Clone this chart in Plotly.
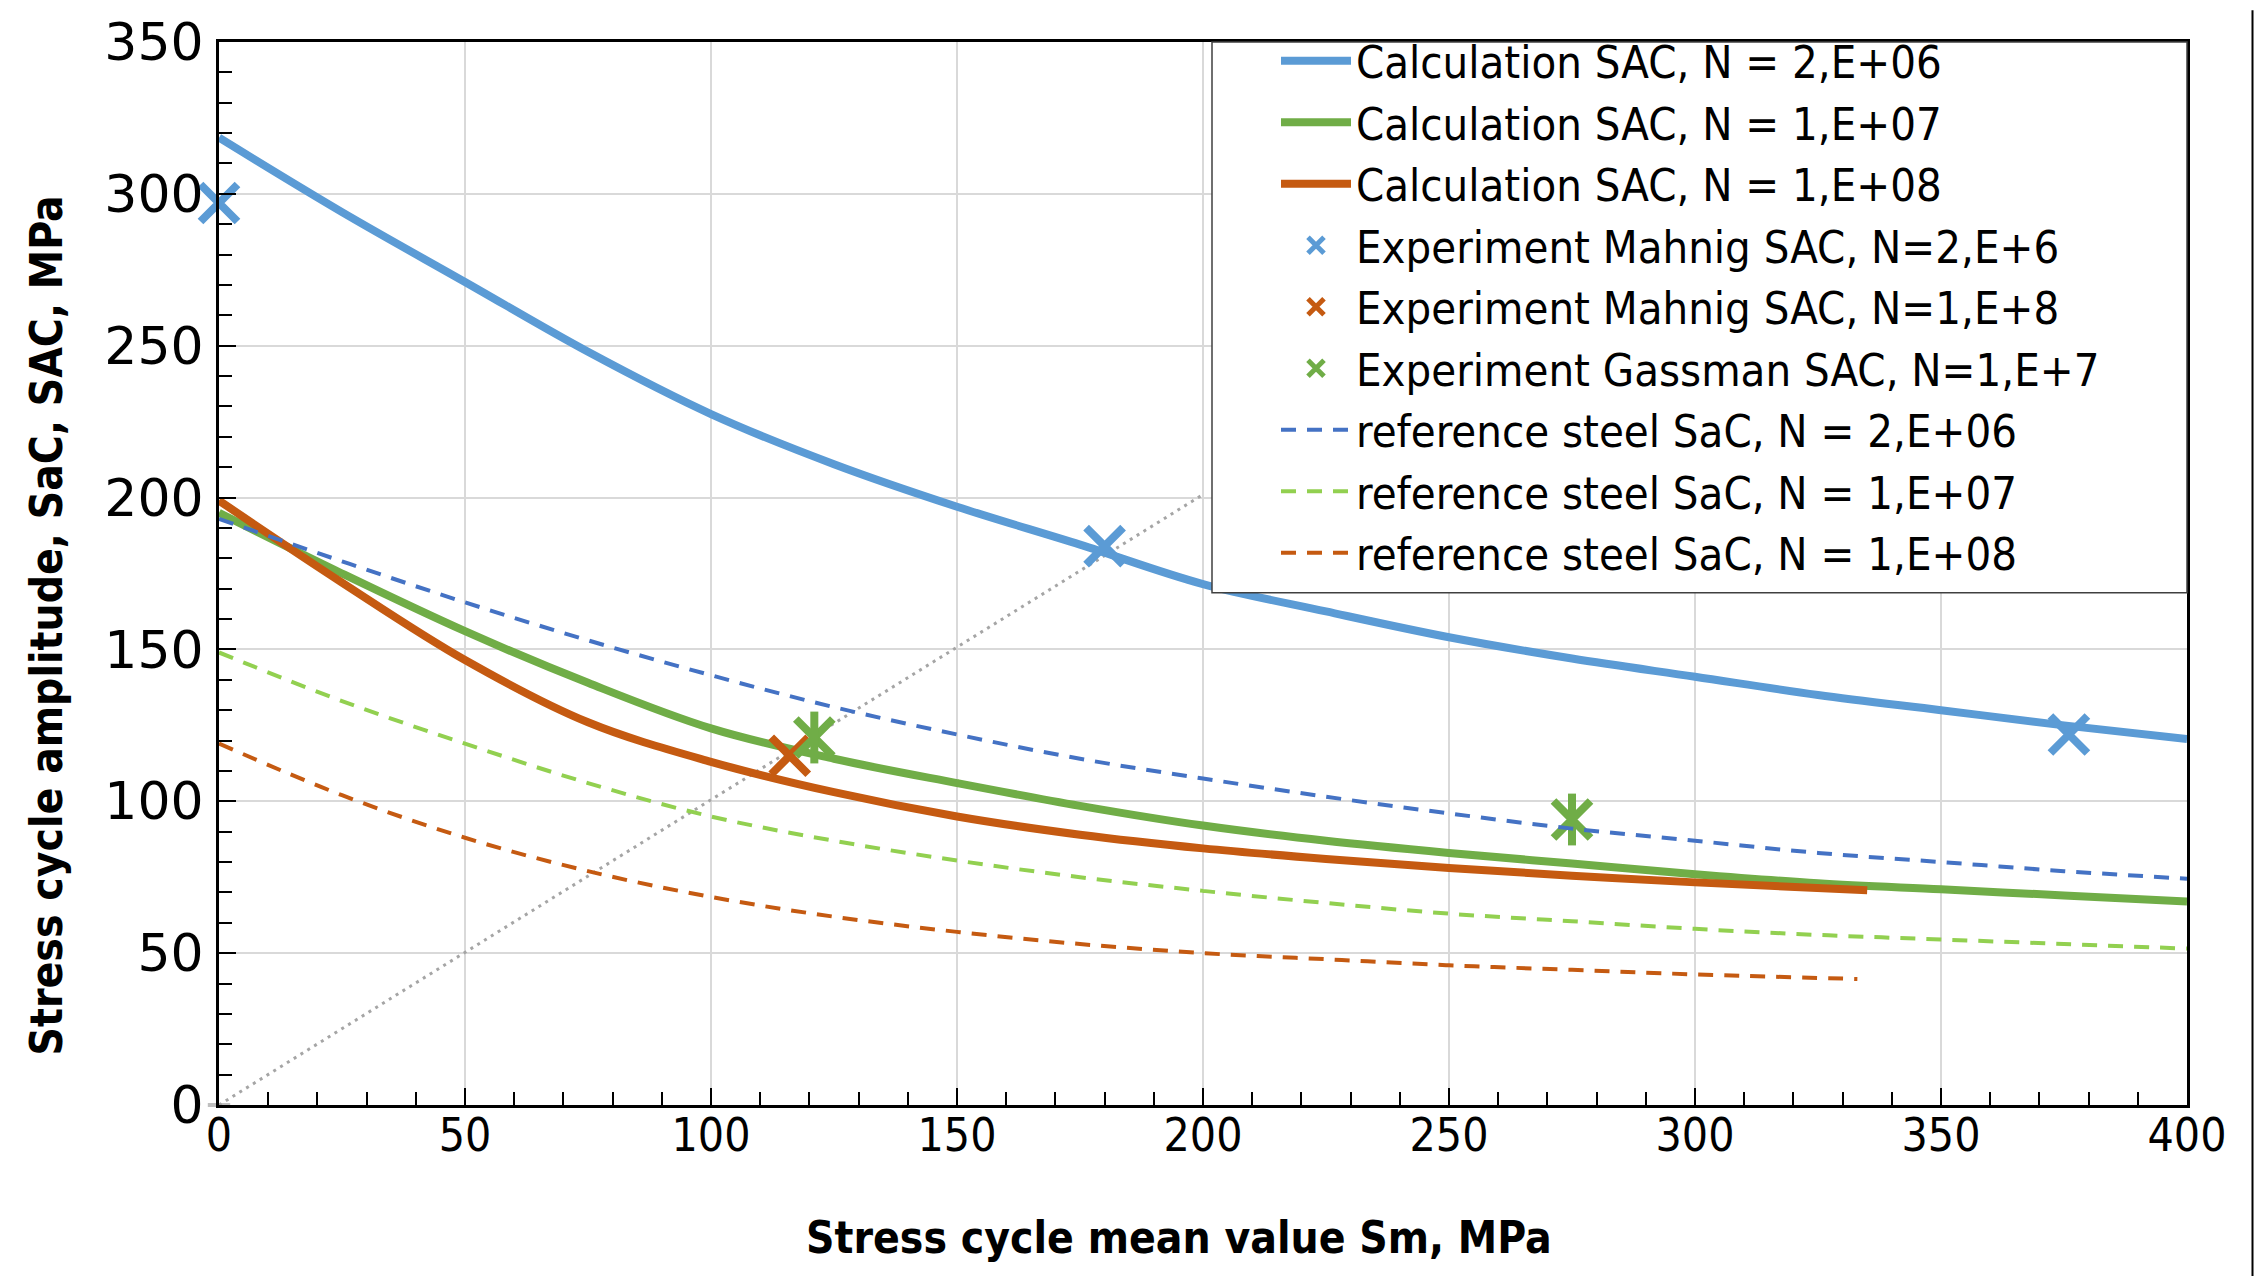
import plotly.graph_objects as go

# ---------------- data ----------------
x_calc = [0, 25, 50, 75, 100, 125, 150, 175, 200, 225, 250, 275, 300, 325, 350, 375, 400]
calc_2e6 = [318.5, 294, 271, 248, 227.5, 211, 197, 184.5, 171.5, 162.5, 154, 147, 141, 135, 130, 125, 120.5]
calc_1e7 = [195, 175, 156, 139, 124, 114, 106, 98.5, 92, 87, 83, 79.5, 76, 73, 71, 69, 67]
x_calc_1e8 = [0, 25, 50, 75, 100, 125, 150, 175, 200, 225, 250, 275, 300, 335]
calc_1e8 = [199, 172, 146.5, 126, 113, 103, 95, 89, 84.5, 81, 78, 75.5, 73.3, 70.7]

x_ref = [0, 25, 50, 75, 100, 125, 150, 175, 200, 225, 250, 275, 300, 325, 350, 375, 400]
ref_2e6 = [193, 179, 165.5, 153, 141.5, 131, 122, 114, 107.5, 101.5, 96, 91, 87, 83, 80, 77, 74.5]
ref_1e7 = [149, 133, 119, 106, 95, 87, 80.5, 75, 70.5, 66.5, 63, 60.5, 58, 56, 54.5, 53, 51.5]
x_ref_1e8 = [0, 25, 50, 75, 100, 125, 150, 175, 200, 225, 250, 275, 300, 333]
ref_1e8 = [119, 102, 88, 77, 68.5, 62, 57, 53, 50, 48, 46, 44.5, 43, 41.5]

exp_mahnig_2e6_x = [0, 180, 376]
exp_mahnig_2e6_y = [297, 184, 122]
exp_mahnig_1e8_x = [116]
exp_mahnig_1e8_y = [115]
exp_gassman_1e7_x = [121, 275]
exp_gassman_1e7_y = [121, 94]

diag_x = [0, 200]
diag_y = [0, 201]

names = [
    "Calculation SAC, N = 2,E+06",
    "Calculation SAC, N = 1,E+07",
    "Calculation SAC, N = 1,E+08",
    "Experiment Mahnig SAC, N=2,E+6",
    "Experiment Mahnig SAC, N=1,E+8",
    "Experiment Gassman SAC, N=1,E+7",
    "reference steel SaC, N = 2,E+06",
    "reference steel SaC, N = 1,E+07",
    "reference steel SaC, N = 1,E+08",
]

x_ticks = [0, 50, 100, 150, 200, 250, 300, 350, 400]
y_ticks = [0, 50, 100, 150, 200, 250, 300, 350]
x_title = "Stress cycle mean value Sm, MPa"
y_title = "Stress cycle amplitude, SaC, SAC, MPa"

# ---------------- styles ----------------
BLUE = "#5B9BD5"
GREEN = "#70AD47"
ORANGE = "#C55A11"
DBLUE = "#4472C4"
LGREEN = "#92D050"
GRAY = "#A5A5A5"
NARROW = "DejaVu Sans Condensed, DejaVu Sans, sans-serif"
DASH = "15px,11px"
MSIZE = 37
MLW = 8

fig = go.Figure()

# diagonal dotted helper line (not in legend)
fig.add_trace(go.Scatter(x=diag_x, y=diag_y, mode="lines+markers", showlegend=False,
                         line=dict(color=GRAY, width=3, dash="3px,5px"),
                         marker=dict(symbol="line-ew-open", size=[16, 0],
                                     line=dict(color=GRAY, width=4)),
                         cliponaxis=False, hoverinfo="skip"))

fig.add_trace(go.Scatter(x=x_calc, y=calc_2e6, name=names[0], mode="lines",
                         line=dict(color=BLUE, width=8, shape="spline")))
fig.add_trace(go.Scatter(x=x_calc, y=calc_1e7, name=names[1], mode="lines",
                         line=dict(color=GREEN, width=8, shape="spline")))
fig.add_trace(go.Scatter(x=x_calc_1e8, y=calc_1e8, name=names[2], mode="lines",
                         line=dict(color=ORANGE, width=8, shape="spline")))

fig.add_trace(go.Scatter(x=exp_mahnig_2e6_x, y=exp_mahnig_2e6_y, name=names[3], mode="markers",
                         marker=dict(symbol="x-thin-open", size=MSIZE, color=BLUE,
                                     line=dict(color=BLUE, width=MLW)),
                         cliponaxis=False))
fig.add_trace(go.Scatter(x=exp_mahnig_1e8_x, y=exp_mahnig_1e8_y, name=names[4], mode="markers",
                         marker=dict(symbol="x-thin-open", size=MSIZE, color=ORANGE,
                                     line=dict(color=ORANGE, width=MLW))))
fig.add_trace(go.Scatter(x=exp_gassman_1e7_x, y=exp_gassman_1e7_y, name=names[5], mode="markers",
                         marker=dict(symbol="x-thin-open", size=MSIZE, color=GREEN,
                                     line=dict(color=GREEN, width=MLW))))
fig.add_trace(go.Scatter(x=exp_gassman_1e7_x, y=exp_gassman_1e7_y, showlegend=False, mode="markers",
                         marker=dict(symbol="line-ns-open", size=MSIZE, color=GREEN,
                                     line=dict(color=GREEN, width=MLW)),
                         hoverinfo="skip"))

fig.add_trace(go.Scatter(x=x_ref, y=ref_2e6, name=names[6], mode="lines",
                         line=dict(color=DBLUE, width=4, dash=DASH, shape="spline")))
fig.add_trace(go.Scatter(x=x_ref, y=ref_1e7, name=names[7], mode="lines",
                         line=dict(color=LGREEN, width=4, dash=DASH, shape="spline")))
fig.add_trace(go.Scatter(x=x_ref_1e8, y=ref_1e8, name=names[8], mode="lines",
                         line=dict(color=ORANGE, width=4, dash=DASH, shape="spline")))

# legend background box (covers gridlines and curves like the original)
fig.add_shape(type="rect", xref="paper", yref="paper",
              x0=(1212 - 219) / 1968, x1=1.0, y0=(1105 - 588) / 1073, y1=1.0,
              fillcolor="white", line=dict(color="#404040", width=1.5), layer="above")
# thin frame line at right edge of picture
fig.add_shape(type="line", xref="paper", yref="paper",
              x0=1 + (2252.5 - 2187) / 1968, x1=1 + (2252.5 - 2187) / 1968,
              y0=-1105 / 1073, y1=1 + 32 / 1073,
              line=dict(color="black", width=2))

fig.update_layout(
    width=2254, height=1276,
    margin=dict(l=219, r=67, t=32, b=171),
    paper_bgcolor="white", plot_bgcolor="white",
    showlegend=True,
    legend=dict(x=(1276 - 219) / 1968, xanchor="left", y=1.016, yanchor="top",
                bgcolor="rgba(0,0,0,0)", borderwidth=0,
                font=dict(family=NARROW, size=45, color="black"),
                itemwidth=70, tracegroupgap=0),
    annotations=[
        dict(text="<b>" + x_title + "</b>", xref="paper", yref="paper",
             x=(1179 - 219) / 1968, y=(1105 - 1239) / 1073, xanchor="center", yanchor="middle",
             showarrow=False, font=dict(family=NARROW, size=44, color="black")),
        dict(text="<b>" + y_title + "</b>", xref="paper", yref="paper",
             x=(47 - 219) / 1968, y=(1105 - 621) / 1073, xanchor="center", yanchor="middle",
             textangle=-90, showarrow=False, font=dict(family=NARROW, size=44, color="black")),
    ],
)

fig.update_xaxes(
    range=[0, 400], tickvals=x_ticks, ticktext=[str(v) for v in x_ticks],
    showline=True, linecolor="black", linewidth=3, mirror=True,
    ticks="inside", ticklen=17, tickwidth=2, tickcolor="black",
    minor=dict(dtick=10, tick0=0, ticks="inside", ticklen=13, tickwidth=2,
               tickcolor="black", showgrid=False),
    showgrid=True, gridcolor="#D9D9D9", gridwidth=2, zeroline=False,
    tickfont=dict(family=NARROW, size=46, color="black"),
    ticklabelstandoff=-12,
)
fig.update_yaxes(
    range=[0, 350], tickvals=y_ticks, ticktext=[str(v) for v in y_ticks],
    showline=True, linecolor="black", linewidth=3, mirror=True,
    ticks="inside", ticklen=17, tickwidth=2, tickcolor="black",
    minor=dict(dtick=10, tick0=0, ticks="inside", ticklen=13, tickwidth=2,
               tickcolor="black", showgrid=False),
    showgrid=True, gridcolor="#D9D9D9", gridwidth=2, zeroline=False,
    tickfont=dict(family="DejaVu Sans", size=52, color="black"),
    ticklabelstandoff=2,
)

fig.write_html("out.html")
